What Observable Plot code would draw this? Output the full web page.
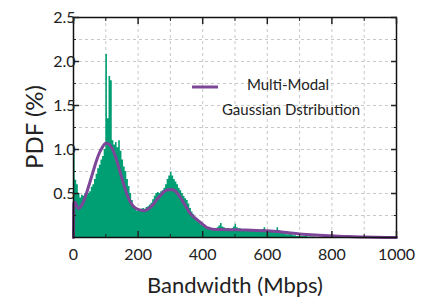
<!DOCTYPE html>
<html><head><meta charset="utf-8">
<script src="https://cdn.jsdelivr.net/npm/d3@7"></script>
<script src="https://cdn.jsdelivr.net/npm/@observablehq/plot@0.6"></script>
<style>
body{margin:0;background:#fff;}
#wrap{position:relative;width:429px;height:300px;font-family:Lato,"Open Sans",sans-serif;color:#222;}
.lbl{position:absolute;white-space:nowrap;}
</style></head>
<body><div id="wrap"></div>
<script>
// Histogram: bin width (Mbps) and PDF (%) per bin starting at 0
const binWidth = 5;
const histValues = [
 0.95,0.65,0.60,0.50,0.45,0.48,0.47,0.50,0.48,0.50,
 0.52,0.57,0.60,0.66,0.72,0.78,0.82,0.88,0.92,1.00,
 2.08,1.35,1.83,1.78,1.10,1.05,1.08,1.02,1.10,0.98,
 0.88,0.80,0.75,0.66,0.58,0.50,0.42,0.36,0.32,0.30,
 0.31,0.30,0.32,0.33,0.32,0.34,0.35,0.37,0.39,0.43,
 0.47,0.50,0.51,0.50,0.52,0.53,0.56,0.60,0.66,0.70,
 0.74,0.70,0.66,0.63,0.60,0.56,0.53,0.50,0.47,0.44,
 0.42,0.38,0.33,0.29,0.26,0.23,0.20,0.18,0.16,0.14,
 0.13,0.12,0.11,0.10,0.10,0.10,0.10,0.09,0.10,0.11,
 0.13,0.16,0.12,0.11,0.10,0.10,0.10,0.09,0.10,0.12,
 0.15,0.11,0.10,0.10,0.09,0.09,0.09,0.08,0.09,0.09,
 0.08,0.08,0.08,0.08,0.08,0.08,0.08,0.09,0.11,0.08,
 0.07,0.07,0.07,0.06,0.07,0.08,0.11,0.08,0.05,0.05,
 0.04,0.04,0.03,0.03,0.04,0.03,0.02,0.02,0.01,0.01,
 0.01,0.01,0.01,0.01,0.01,0.005,0.005,0.005,0.005,0.005
];
// Multi-modal Gaussian fit curve
const curveX = [0,1,5,10,15,20,30,40,50,60,70,80,90,100,110,120,130,140,150,160,170,180,190,200,210,220,230,240,250,260,270,280,290,300,310,320,330,340,350,360,370,380,390,400,410,420,430,460,500,550,600,650,700,750,800,850,900,1000];
const curveY = [0,0.40,0.40,0.36,0.33,0.34,0.40,0.50,0.62,0.74,0.86,0.96,1.03,1.07,1.06,1.01,0.92,0.80,0.67,0.55,0.45,0.38,0.34,0.32,0.31,0.305,0.32,0.35,0.39,0.44,0.48,0.52,0.54,0.545,0.54,0.51,0.46,0.40,0.34,0.28,0.24,0.21,0.18,0.15,0.12,0.105,0.095,0.09,0.088,0.082,0.076,0.06,0.04,0.028,0.02,0.01,0.005,0.0];
const xTicks = [0,200,400,600,800,1000];
const xMinor = [100,300,500,700,900];
const yTicks = [0.5,1.0,1.5,2.0,2.5];
const yMinor = [0.25,0.75,1.25,1.75,2.25];
const xGrid = [100,200,300,400,500,600,700,800,900];
const yGrid = [0.25,0.5,0.75,1.0,1.25,1.5,1.75,2.0,2.25];

const hist = histValues.map((v,i)=>({x:i*binWidth, v}));
hist.push({x:histValues.length*binWidth, v:0});
const curve = curveX.map((x,i)=>({x, v:curveY[i]}));
const green = "#009e73", purple = "#7d4698";
const gridStyle = {stroke:"#c8c8c8", strokeDasharray:"3,3", strokeOpacity:1, strokeWidth:1};
const none = () => "";

const chart = Plot.plot({
  width:429, height:300,
  marginLeft:73, marginRight:33, marginTop:17, marginBottom:63,
  style:{fontFamily:"Lato, 'Open Sans', sans-serif", fontSize:"16px", color:"#222", background:"white"},
  x:{domain:[0,1000]},
  y:{domain:[0,2.5]},
  marks:[
    Plot.gridX(xGrid, gridStyle),
    Plot.gridY(yGrid, gridStyle),
    Plot.areaY(hist, {x:"x", y:"v", fill:green, curve:"step-after"}),
    Plot.line(curve, {x:"x", y:"v", stroke:purple, strokeWidth:3, curve:"monotone-x"}),
    Plot.frame({stroke:"#111", strokeWidth:1.5}),
    Plot.axisX(xTicks, {tickSize:-6, tickPadding:17, tickFormat:d=>String(d), label:null, strokeWidth:1.5}),
    Plot.axisX(xMinor, {tickSize:-3, tickFormat:none, label:null}),
    Plot.axisX(xTicks, {anchor:"top", tickSize:-6, tickFormat:none, label:null, strokeWidth:1.5}),
    Plot.axisX(xMinor, {anchor:"top", tickSize:-3, tickFormat:none, label:null}),
    Plot.axisY(yTicks, {tickSize:-6, tickPadding:4, tickFormat:d=>d.toFixed(1), label:null, strokeWidth:1.5}),
    Plot.axisY(yMinor, {tickSize:-3, tickFormat:none, label:null}),
    Plot.axisY(yTicks, {anchor:"right", tickSize:-6, tickFormat:none, label:null, strokeWidth:1.5}),
    Plot.axisY(yMinor, {anchor:"right", tickSize:-3, tickFormat:none, label:null})
  ]
});
const wrap = document.getElementById("wrap");
wrap.appendChild(chart);

function addLabel(text, css){
  const d = document.createElement("div");
  d.className = "lbl"; d.textContent = text;
  Object.assign(d.style, css);
  wrap.appendChild(d);
  return d;
}
// axis titles
addLabel("Bandwidth (Mbps)", {left:"235px", top:"284px", transform:"translate(-50%,-50%)", fontSize:"22px"});
addLabel("PDF (%)", {left:"33px", top:"127px", transform:"translate(-50%,-50%) rotate(-90deg)", fontSize:"24px"});
// legend
const sw = document.createElementNS("http://www.w3.org/2000/svg","svg");
sw.setAttribute("width","28"); sw.setAttribute("height","6");
sw.style.position="absolute"; sw.style.left="191px"; sw.style.top="84px";
const ln = document.createElementNS("http://www.w3.org/2000/svg","line");
ln.setAttribute("x1","1"); ln.setAttribute("x2","27"); ln.setAttribute("y1","3"); ln.setAttribute("y2","3");
ln.setAttribute("stroke",purple); ln.setAttribute("stroke-width","3");
sw.appendChild(ln); wrap.appendChild(sw);
addLabel("Multi-Modal", {left:"288px", top:"84px", transform:"translate(-50%,-50%)", fontSize:"15px"});
addLabel("Gaussian Dstribution", {left:"291px", top:"109px", transform:"translate(-50%,-50%)", fontSize:"15px"});
</script>
</body></html>
